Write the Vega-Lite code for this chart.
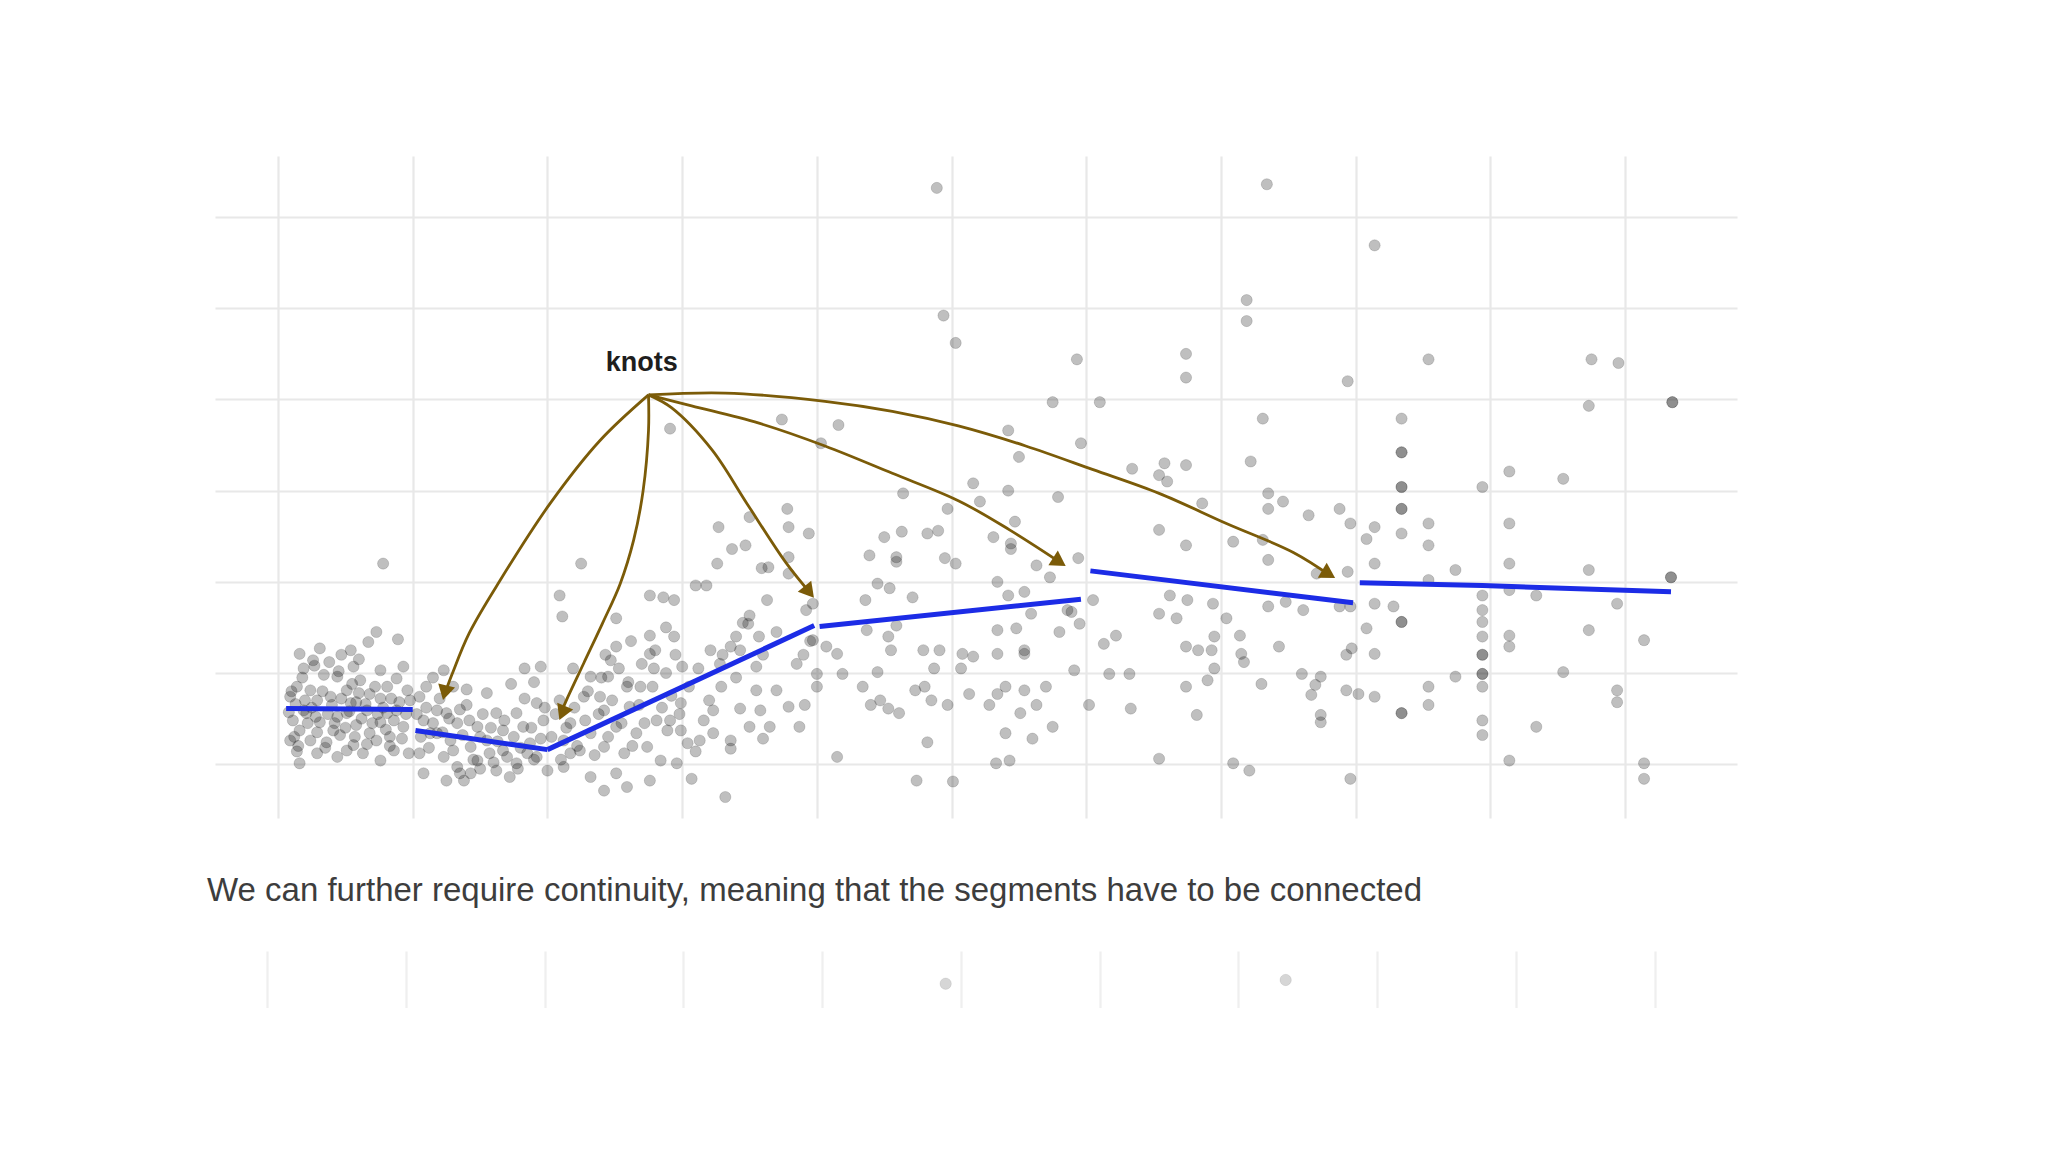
{
  "$schema": "https://vega.github.io/schema/vega-lite/v6.json",
  "background": "white",
  "padding": {"left": 207, "top": 156, "right": 0, "bottom": 0},
  "spacing": 133,
  "bounds": "flush",
  "config": {
    "view": {"stroke": null},
    "axis": {"gridColor": "#e8e8e8", "gridWidth": 2.2}
  },
  "datasets": {
    "pts": [
      {"x":0.78,"y":2.20},{"x":0.73,"y":1.45},{"x":0.89,"y":1.37},{"x":0.67,"y":1.34},{"x":0.31,"y":1.27},{"x":0.54,"y":1.25},{"x":0.16,"y":1.21},{"x":0.47,"y":1.20},{"x":0.26,"y":1.14},{"x":0.56,"y":1.07},{"x":0.19,"y":1.05},{"x":0.76,"y":1.03},{"x":0.93,"y":1.07},{"x":0.34,"y":0.98},{"x":0.44,"y":0.96},{"x":0.61,"y":0.92},{"x":0.88,"y":0.94},{"x":0.14,"y":0.85},{"x":0.24,"y":0.81},{"x":0.51,"y":0.81},{"x":0.68,"y":0.77},{"x":0.81,"y":0.85},{"x":0.96,"y":0.81},{"x":0.09,"y":0.74},{"x":0.29,"y":0.70},{"x":0.39,"y":0.74},{"x":0.58,"y":0.68},{"x":0.76,"y":0.72},{"x":0.19,"y":0.59},{"x":0.51,"y":0.56},{"x":0.66,"y":0.59},{"x":0.88,"y":0.59},{"x":0.11,"y":0.48},{"x":0.31,"y":0.46},{"x":0.44,"y":0.52},{"x":0.58,"y":0.43},{"x":0.76,"y":0.46},{"x":0.93,"y":0.41},{"x":0.16,"y":0.37},{"x":0.29,"y":0.35},{"x":0.46,"y":0.32},{"x":0.68,"y":0.34},{"x":0.83,"y":0.30},{"x":0.24,"y":0.26},{"x":0.36,"y":0.24},{"x":0.56,"y":0.21},{"x":0.73,"y":0.26},{"x":0.14,"y":0.14},{"x":0.29,"y":0.12},{"x":0.51,"y":0.15},{"x":0.63,"y":0.12},{"x":0.86,"y":0.15},{"x":0.16,"y":0.01},{"x":0.44,"y":0.08},{"x":0.76,"y":0.04},{"x":0.97,"y":0.12},{"x":0.09,"y":0.26},{"x":0.21,"y":0.56},{"x":0.41,"y":0.37},{"x":0.81,"y":0.56},{"x":0.54,"y":0.67},
      {"x":0.10,"y":0.80},{"x":0.13,"y":0.66},{"x":0.20,"y":0.70},{"x":0.22,"y":0.45},{"x":0.25,"y":0.62},{"x":0.28,"y":0.52},{"x":0.33,"y":0.80},{"x":0.37,"y":0.55},{"x":0.40,"y":0.65},{"x":0.42,"y":0.45},{"x":0.47,"y":0.72},{"x":0.50,"y":0.40},{"x":0.53,"y":0.58},{"x":0.57,"y":0.30},{"x":0.60,"y":0.78},{"x":0.62,"y":0.50},{"x":0.65,"y":0.66},{"x":0.70,"y":0.45},{"x":0.72,"y":0.85},{"x":0.74,"y":0.55},{"x":0.78,"y":0.62},{"x":0.80,"y":0.38},{"x":0.84,"y":0.72},{"x":0.86,"y":0.48},{"x":0.90,"y":0.68},{"x":0.92,"y":0.28},{"x":0.95,"y":0.55},{"x":0.98,"y":0.70},{"x":0.12,"y":0.30},{"x":0.18,"y":0.95},{"x":0.27,"y":1.08},{"x":0.35,"y":0.18},{"x":0.45,"y":1.02},{"x":0.55,"y":0.88},{"x":0.66,"y":0.22},{"x":0.83,"y":0.20},{"x":0.15,"y":0.20},{"x":0.60,"y":1.15},{"x":0.38,"y":1.12},{"x":0.08,"y":0.57},
      {"x":1.10,"y":0.85},{"x":1.23,"y":1.03},{"x":1.05,"y":0.74},{"x":1.18,"y":0.59},{"x":1.08,"y":0.48},{"x":1.25,"y":0.56},{"x":1.40,"y":0.65},{"x":1.33,"y":0.45},{"x":1.13,"y":0.34},{"x":1.48,"y":0.41},{"x":1.62,"y":0.56},{"x":1.67,"y":0.37},{"x":1.77,"y":0.56},{"x":1.83,"y":1.05},{"x":1.95,"y":1.07},{"x":1.92,"y":0.67},{"x":1.97,"y":0.48},{"x":1.82,"y":0.41},{"x":1.55,"y":0.26},{"x":1.28,"y":0.26},{"x":1.43,"y":0.19},{"x":1.67,"y":0.15},{"x":1.87,"y":0.23},{"x":1.05,"y":0.12},{"x":1.23,"y":0.08},{"x":1.33,"y":-0.03},{"x":1.48,"y":0.04},{"x":1.62,"y":-0.07},{"x":1.77,"y":0.01},{"x":1.92,"y":0.08},{"x":2.00,"y":-0.07},{"x":1.08,"y":-0.10},{"x":1.25,"y":-0.18},{"x":1.43,"y":-0.10},{"x":1.72,"y":-0.14},{"x":1.18,"y":0.34},{"x":1.57,"y":0.12},{"x":1.85,"y":0.12},{"x":1.38,"y":-0.18},
      {"x":1.03,"y":0.55},{"x":1.06,"y":0.30},{"x":1.10,"y":0.62},{"x":1.12,"y":0.18},{"x":1.15,"y":0.45},{"x":1.20,"y":0.72},{"x":1.22,"y":0.35},{"x":1.27,"y":0.50},{"x":1.30,"y":0.15},{"x":1.35,"y":0.60},{"x":1.37,"y":0.32},{"x":1.42,"y":0.48},{"x":1.45,"y":0.05},{"x":1.50,"y":0.30},{"x":1.52,"y":0.55},{"x":1.58,"y":0.40},{"x":1.60,"y":0.02},{"x":1.63,"y":0.25},{"x":1.68,"y":0.48},{"x":1.70,"y":0.08},{"x":1.75,"y":0.30},{"x":1.80,"y":0.18},{"x":1.83,"y":0.72},{"x":1.88,"y":0.40},{"x":1.90,"y":0.05},{"x":1.95,"y":0.28},{"x":1.98,"y":0.62},{"x":1.40,"y":0.82},{"x":1.55,"y":0.78},{"x":1.73,"y":0.88},{"x":1.15,"y":0.95},{"x":1.30,"y":0.85},{"x":1.90,"y":0.90},{"x":1.50,"y":-0.05},{"x":1.35,"y":-0.10},{"x":1.78,"y":-0.05},
      {"x":2.25,"y":2.20},{"x":2.09,"y":1.85},{"x":2.11,"y":1.62},{"x":2.51,"y":1.60},{"x":2.76,"y":1.85},{"x":2.86,"y":1.83},{"x":2.76,"y":1.41},{"x":2.51,"y":1.29},{"x":2.76,"y":1.21},{"x":2.47,"y":1.14},{"x":2.32,"y":0.96},{"x":2.19,"y":1.05},{"x":2.45,"y":0.96},{"x":2.59,"y":0.85},{"x":2.79,"y":1.05},{"x":2.69,"y":0.85},{"x":2.27,"y":0.74},{"x":2.39,"y":0.74},{"x":2.09,"y":0.70},{"x":2.42,"y":0.59},{"x":2.61,"y":0.63},{"x":2.81,"y":0.48},{"x":2.17,"y":0.45},{"x":2.32,"y":0.34},{"x":2.51,"y":0.41},{"x":2.66,"y":0.34},{"x":2.12,"y":0.26},{"x":2.24,"y":0.15},{"x":2.42,"y":0.19},{"x":2.57,"y":0.12},{"x":2.74,"y":0.19},{"x":2.84,"y":0.04},{"x":2.12,"y":-0.03},{"x":2.32,"y":-0.14},{"x":2.51,"y":-0.10},{"x":2.42,"y":-0.29},{"x":2.59,"y":-0.25},{"x":2.76,"y":-0.18},{"x":2.17,"y":0.12},{"x":2.89,"y":0.37},
      {"x":2.03,"y":0.30},{"x":2.06,"y":0.55},{"x":2.10,"y":0.05},{"x":2.14,"y":0.40},{"x":2.20,"y":0.62},{"x":2.22,"y":0.20},{"x":2.28,"y":0.48},{"x":2.30,"y":0.80},{"x":2.35,"y":0.10},{"x":2.38,"y":0.55},{"x":2.40,"y":0.95},{"x":2.45,"y":0.30},{"x":2.48,"y":0.70},{"x":2.53,"y":1.05},{"x":2.55,"y":0.45},{"x":2.60,"y":0.90},{"x":2.63,"y":0.20},{"x":2.68,"y":0.65},{"x":2.70,"y":1.10},{"x":2.72,"y":0.45},{"x":2.78,"y":0.85},{"x":2.80,"y":1.25},{"x":2.85,"y":0.62},{"x":2.88,"y":1.00},{"x":2.92,"y":0.75},{"x":2.95,"y":1.20},{"x":2.98,"y":0.55},{"x":2.62,"y":1.35},{"x":2.43,"y":1.20},{"x":2.88,"y":1.50},
      {"x":4.16,"y":3.72},{"x":4.03,"y":3.52},{"x":3.27,"y":2.60},{"x":3.50,"y":2.71},{"x":3.78,"y":2.80},{"x":3.79,"y":2.60},{"x":3.94,"y":2.53},{"x":3.37,"y":2.36},{"x":3.47,"y":2.40},{"x":3.26,"y":2.20},{"x":3.59,"y":2.15},{"x":3.64,"y":2.16},{"x":3.79,"y":2.09},{"x":3.79,"y":2.27},{"x":3.10,"y":1.96},{"x":3.18,"y":1.96},{"x":2.94,"y":1.80},{"x":3.63,"y":1.80},{"x":3.50,"y":1.63},{"x":3.49,"y":1.54},{"x":3.92,"y":1.69},{"x":3.97,"y":1.76},{"x":2.94,"y":1.40},{"x":3.40,"y":1.40},{"x":3.57,"y":1.40},{"x":3.21,"y":1.25},{"x":3.36,"y":1.29},{"x":3.43,"y":1.25},{"x":3.90,"y":1.20},{"x":3.97,"y":1.36},{"x":4.07,"y":1.29},{"x":4.15,"y":1.21},{"x":3.00,"y":1.07},{"x":3.28,"y":1.10},{"x":3.55,"y":1.07},{"x":4.00,"y":0.99},{"x":4.19,"y":0.99},{"x":3.29,"y":0.85},{"x":3.55,"y":0.81},{"x":3.70,"y":0.81},{"x":4.00,"y":0.85},{"x":4.34,"y":0.85},{"x":2.99,"y":0.67},{"x":3.23,"y":0.59},{"x":3.43,"y":0.61},{"x":3.58,"y":0.59},{"x":3.79,"y":0.63},{"x":3.91,"y":0.65},{"x":2.91,"y":0.48},{"x":3.16,"y":0.48},{"x":3.50,"y":0.41},{"x":3.65,"y":0.41},{"x":3.87,"y":0.41},{"x":2.99,"y":0.37},{"x":3.23,"y":0.34},{"x":3.36,"y":0.26},{"x":3.60,"y":0.28},{"x":3.04,"y":0.23},{"x":3.13,"y":0.26},{"x":3.10,"y":0.14},{"x":3.36,"y":0.17},{"x":2.96,"y":0.01},{"x":3.07,"y":-0.16},{"x":3.32,"y":-0.36},{"x":4.15,"y":0.08},
      {"x":3.05,"y":0.85},{"x":3.12,"y":1.05},{"x":3.20,"y":0.70},{"x":3.30,"y":1.20},{"x":3.40,"y":0.95},{"x":3.45,"y":1.55},{"x":3.60,"y":1.20},{"x":3.70,"y":1.45},{"x":3.85,"y":1.10},{"x":3.95,"y":1.35},
      {"x":4.64,"y":2.97},{"x":4.50,"y":2.49},{"x":4.63,"y":2.55},{"x":4.39,"y":2.29},{"x":4.59,"y":2.22},{"x":4.59,"y":2.27},{"x":4.82,"y":2.53},{"x":4.90,"y":2.56},{"x":4.95,"y":2.26},{"x":4.97,"y":2.80},{"x":4.45,"y":1.98},{"x":4.54,"y":1.93},{"x":4.36,"y":1.80},{"x":4.71,"y":1.83},{"x":4.37,"y":1.47},{"x":4.59,"y":1.52},{"x":4.53,"y":1.40},{"x":4.55,"y":1.25},{"x":4.79,"y":1.25},{"x":4.91,"y":1.25},{"x":4.45,"y":1.01},{"x":4.87,"y":1.05},{"x":4.80,"y":0.85},{"x":4.73,"y":0.81},{"x":4.40,"y":0.65},{"x":4.47,"y":0.70},{"x":4.53,"y":0.61},{"x":4.61,"y":0.56},{"x":4.85,"y":0.70},{"x":4.97,"y":0.65},{"x":4.82,"y":0.24},{"x":4.74,"y":-0.18},{"x":5.01,"y":-0.19},
      {"x":5.42,"y":3.66},{"x":5.50,"y":3.37},{"x":5.16,"y":3.08},{"x":5.42,"y":3.00},{"x":5.79,"y":2.93},{"x":5.21,"y":2.88},{"x":5.47,"y":2.66},{"x":5.31,"y":2.49},{"x":5.44,"y":2.42},{"x":5.44,"y":2.36},{"x":5.03,"y":2.20},{"x":5.63,"y":2.18},{"x":5.73,"y":2.05},{"x":5.34,"y":2.00},{"x":5.54,"y":1.89},{"x":5.42,"y":1.85},{"x":5.59,"y":1.65},{"x":5.34,"y":1.47},{"x":5.48,"y":1.49},{"x":5.80,"y":1.45},{"x":5.86,"y":1.69},{"x":5.08,"y":1.21},{"x":5.16,"y":1.18},{"x":5.34,"y":1.21},{"x":5.54,"y":1.25},{"x":5.54,"y":1.21},{"x":5.07,"y":1.05},{"x":5.40,"y":0.85},{"x":5.54,"y":0.81},{"x":5.70,"y":0.85},{"x":5.13,"y":0.77},{"x":5.34,"y":0.77},{"x":5.28,"y":0.65},{"x":5.51,"y":0.56},{"x":5.63,"y":0.65},{"x":5.40,"y":0.34},{"x":5.75,"y":0.41},{"x":5.60,"y":0.28},{"x":5.33,"y":0.01},{"x":5.43,"y":0.04},
      {"x":5.96,"y":3.52},{"x":6.34,"y":3.24},{"x":6.58,"y":3.30},{"x":6.74,"y":3.28},{"x":6.54,"y":3.17},{"x":6.60,"y":3.10},{"x":7.22,"y":3.32},{"x":7.35,"y":2.97},{"x":7.46,"y":2.88},{"x":7.35,"y":2.80},{"x":7.65,"y":2.73},{"x":7.88,"y":2.80},{"x":7.96,"y":2.64},{"x":6.86,"y":2.86},{"x":6.54,"y":2.57},{"x":6.74,"y":2.40},{"x":7.09,"y":2.44},{"x":7.31,"y":2.46},{"x":7.35,"y":2.24},{"x":5.94,"y":2.26},{"x":7.94,"y":2.11},{"x":7.71,"y":2.09},{"x":6.05,"y":1.80},{"x":6.62,"y":1.85},{"x":6.75,"y":1.80},{"x":6.94,"y":1.76},{"x":7.04,"y":1.60},{"x":6.54,"y":1.65},{"x":6.67,"y":1.60},{"x":5.89,"y":1.67},{"x":5.95,"y":1.54},{"x":7.35,"y":1.73},{"x":7.48,"y":1.78},{"x":7.61,"y":1.69},{"x":7.88,"y":1.73},{"x":7.96,"y":1.73},{"x":6.22,"y":1.41},{"x":6.13,"y":1.32},{"x":6.95,"y":1.40},{"x":7.14,"y":1.41},{"x":6.74,"y":1.29},{"x":6.83,"y":1.25},{"x":6.93,"y":1.25},{"x":7.15,"y":1.21},{"x":7.17,"y":1.12},{"x":7.43,"y":1.29},{"x":7.97,"y":1.27},{"x":7.93,"y":1.20},{"x":5.91,"y":1.03},{"x":6.17,"y":0.99},{"x":6.32,"y":0.99},{"x":6.95,"y":1.05},{"x":6.90,"y":0.92},{"x":6.74,"y":0.85},{"x":7.30,"y":0.88},{"x":7.60,"y":0.99},{"x":7.74,"y":0.96},{"x":7.70,"y":0.87},{"x":7.67,"y":0.76},{"x":7.93,"y":0.81},{"x":6.02,"y":0.65},{"x":6.33,"y":0.61},{"x":6.82,"y":0.54},{"x":7.74,"y":0.54},{"x":7.74,"y":0.46},{"x":6.54,"y":0.06},{"x":7.09,"y":0.01},{"x":7.21,"y":-0.07},{"x":7.96,"y":-0.16},
      {"x":8.34,"y":3.42},{"x":8.34,"y":3.42},{"x":8.34,"y":3.04},{"x":8.34,"y":3.04},{"x":8.34,"y":2.80},{"x":8.34,"y":2.80},{"x":8.34,"y":2.53},{"x":8.54,"y":2.64},{"x":8.54,"y":2.40},{"x":8.14,"y":2.60},{"x":8.08,"y":2.47},{"x":8.14,"y":2.20},{"x":8.74,"y":2.13},{"x":8.54,"y":2.02},{"x":8.14,"y":1.76},{"x":8.28,"y":1.73},{"x":8.34,"y":1.56},{"x":8.34,"y":1.56},{"x":8.08,"y":1.49},{"x":8.14,"y":1.21},{"x":8.74,"y":0.96},{"x":8.54,"y":0.85},{"x":8.54,"y":0.65},{"x":8.14,"y":0.74},{"x":8.34,"y":0.56},{"x":8.34,"y":0.56},{"x":8.02,"y":0.77},
      {"x":8.94,"y":3.04},{"x":9.14,"y":3.21},{"x":9.54,"y":3.13},{"x":9.14,"y":2.64},{"x":9.14,"y":2.20},{"x":9.73,"y":2.13},{"x":10.34,"y":2.05},{"x":10.34,"y":2.05},{"x":9.14,"y":1.91},{"x":8.94,"y":1.85},{"x":9.34,"y":1.85},{"x":8.94,"y":1.69},{"x":8.94,"y":1.56},{"x":8.94,"y":1.40},{"x":8.94,"y":1.20},{"x":8.94,"y":1.20},{"x":8.94,"y":0.99},{"x":8.94,"y":0.99},{"x":8.94,"y":0.85},{"x":8.94,"y":0.48},{"x":8.94,"y":0.32},{"x":9.14,"y":1.41},{"x":9.14,"y":1.29},{"x":9.73,"y":1.47},{"x":9.94,"y":1.76},{"x":10.14,"y":1.36},{"x":9.54,"y":1.01},{"x":9.94,"y":0.81},{"x":9.94,"y":0.68},{"x":9.34,"y":0.41},{"x":9.14,"y":0.04},{"x":10.14,"y":0.01},{"x":10.14,"y":-0.16},
      {"x":4.89,"y":6.32},{"x":7.34,"y":6.36},{"x":8.14,"y":5.69},{"x":4.94,"y":4.92},{"x":5.03,"y":4.62},{"x":7.19,"y":5.09},{"x":7.19,"y":4.86},{"x":5.93,"y":4.44},{"x":6.74,"y":4.50},{"x":6.74,"y":4.24},{"x":7.94,"y":4.20},{"x":8.54,"y":4.44},{"x":9.75,"y":4.44},{"x":9.95,"y":4.40},{"x":9.73,"y":3.93},{"x":10.35,"y":3.97},{"x":10.35,"y":3.97},{"x":5.75,"y":3.97},{"x":6.10,"y":3.97},{"x":7.31,"y":3.79},{"x":8.34,"y":3.79},{"x":2.91,"y":3.68},{"x":3.74,"y":3.78}
    ],
    "fit": [
      {"seg":1,"x":0.06,"y":0.61},{"seg":1,"x":1.0,"y":0.60},
      {"seg":2,"x":1.02,"y":0.37},{"seg":2,"x":2.0,"y":0.16},
      {"seg":3,"x":2.0,"y":0.16},{"seg":3,"x":3.98,"y":1.52},
      {"seg":4,"x":4.02,"y":1.51},{"seg":4,"x":5.96,"y":1.81},
      {"seg":5,"x":6.03,"y":2.12},{"seg":5,"x":7.98,"y":1.77},
      {"seg":6,"x":8.03,"y":1.99},{"seg":6,"x":8.94,"y":1.96},{"seg":6,"x":10.34,"y":1.89}
    ],
    "arr": [
      {"id":1,"ord":0,"x":2.75,"y":4.05},{"id":1,"ord":1,"x":2.39,"y":3.55},{"id":1,"ord":2,"x":2.02,"y":2.86},{"id":1,"ord":3,"x":1.65,"y":2.02},{"id":1,"ord":4,"x":1.42,"y":1.44},{"id":1,"ord":5,"x":1.29,"y":0.98},{"id":1,"ord":6,"x":1.23,"y":0.74},
      {"id":2,"ord":0,"x":2.75,"y":4.05},{"id":2,"ord":1,"x":2.75,"y":3.66},{"id":2,"ord":2,"x":2.71,"y":3.00},{"id":2,"ord":3,"x":2.64,"y":2.46},{"id":2,"ord":4,"x":2.54,"y":1.98},{"id":2,"ord":5,"x":2.41,"y":1.55},{"id":2,"ord":6,"x":2.27,"y":1.11},{"id":2,"ord":7,"x":2.14,"y":0.70},{"id":2,"ord":8,"x":2.10,"y":0.56},
      {"id":3,"ord":0,"x":2.75,"y":4.05},{"id":3,"ord":1,"x":2.92,"y":3.91},{"id":3,"ord":2,"x":3.22,"y":3.45},{"id":3,"ord":3,"x":3.48,"y":2.86},{"id":3,"ord":4,"x":3.77,"y":2.21},{"id":3,"ord":5,"x":3.96,"y":1.86},
      {"id":4,"ord":0,"x":2.75,"y":4.05},{"id":4,"ord":1,"x":3.07,"y":3.93},{"id":4,"ord":2,"x":3.57,"y":3.74},{"id":4,"ord":3,"x":4.06,"y":3.49},{"id":4,"ord":4,"x":4.56,"y":3.19},{"id":4,"ord":5,"x":5.05,"y":2.89},{"id":4,"ord":6,"x":5.43,"y":2.57},{"id":4,"ord":7,"x":5.82,"y":2.20},
      {"id":5,"ord":0,"x":2.75,"y":4.05},{"id":5,"ord":1,"x":3.32,"y":4.07},{"id":5,"ord":2,"x":4.06,"y":3.98},{"id":5,"ord":3,"x":4.56,"y":3.87},{"id":5,"ord":4,"x":5.05,"y":3.71},{"id":5,"ord":5,"x":5.55,"y":3.49},{"id":5,"ord":6,"x":6.05,"y":3.23},{"id":5,"ord":7,"x":6.54,"y":2.97},{"id":5,"ord":8,"x":7.04,"y":2.64},{"id":5,"ord":9,"x":7.54,"y":2.32},{"id":5,"ord":10,"x":7.82,"y":2.06}
    ],
    "heads": [
      {"x":1.238,"y":0.783,"angle":194},
      {"x":2.11,"y":0.56,"angle":203},
      {"x":3.943,"y":1.888,"angle":141},
      {"x":5.80,"y":2.218,"angle":123},
      {"x":7.799,"y":2.085,"angle":121}
    ],
    "lab": [
      {"x":2.70,"y":4.40,"t":"knots"}
    ]
  },
  "vconcat": [
    {
      "width": 1522,
      "height": 662,
      "encoding": {
        "x": {"field": "x", "type": "quantitative",
              "scale": {"domain": [-0.468, 10.83], "nice": false, "zero": false},
              "axis": {"values": [0,1,2,3,4,5,6,7,8,9,10], "labels": false, "ticks": false, "domain": false, "title": null, "grid": true}},
        "y": {"field": "y", "type": "quantitative",
              "scale": {"domain": [-0.59, 6.67], "nice": false, "zero": false},
              "axis": {"values": [0,1,2,3,4,5,6], "labels": false, "ticks": false, "domain": false, "title": null, "grid": true}}
      },
      "layer": [
        {
          "data": {"name": "pts"},
          "mark": {"type": "circle", "size": 125, "fill": "black", "fillOpacity": 0.25, "stroke": "black", "strokeOpacity": 0.14, "strokeWidth": 1, "opacity": 1}
        },
        {
          "data": {"name": "fit"},
          "mark": {"type": "line", "color": "#1c2ce6", "strokeWidth": 5, "strokeCap": "butt"},
          "encoding": {"detail": {"field": "seg", "type": "nominal"}, "order": {"field": "x", "type": "quantitative"}}
        },
        {
          "data": {"name": "arr"},
          "mark": {"type": "line", "color": "#7b5b08", "strokeWidth": 2.8, "interpolate": "catmull-rom"},
          "encoding": {"detail": {"field": "id", "type": "nominal"}, "order": {"field": "ord", "type": "quantitative"}}
        },
        {
          "data": {"name": "heads"},
          "mark": {"type": "point", "shape": "triangle-up", "filled": true, "size": 300, "color": "#7b5b08", "opacity": 1},
          "encoding": {"angle": {"field": "angle", "type": "quantitative", "scale": null}}
        },
        {
          "data": {"name": "lab"},
          "mark": {"type": "text", "font": "Liberation Sans", "fontWeight": "bold", "fontSize": 27, "color": "#1e1e1e", "align": "center", "baseline": "middle"},
          "encoding": {"text": {"field": "t", "type": "nominal"}}
        }
      ]
    },
    {
      "width": 1555,
      "height": 57,
      "title": {
        "text": "We can further require continuity, meaning that the segments have to be connected",
        "orient": "top",
        "anchor": "start",
        "baseline": "alphabetic",
        "offset": 17,
        "dx": -8,
        "font": "Liberation Sans",
        "fontSize": 33,
        "fontWeight": "normal",
        "color": "#3d3d3d"
      },
      "data": {"name": "pts"},
      "mark": {"type": "circle", "size": 130, "fill": "black", "fillOpacity": 0.16, "stroke": "black", "strokeOpacity": 0.08, "strokeWidth": 1, "opacity": 1, "clip": true},
      "encoding": {
        "x": {"field": "x", "type": "quantitative",
              "scale": {"domain": [-0.375, 10.83], "nice": false, "zero": false},
              "axis": {"values": [0,1,2,3,4,5,6,7,8,9,10], "labels": false, "ticks": false, "domain": false, "title": null, "grid": true, "gridColor": "#efefef"}},
        "y": {"field": "y", "type": "quantitative",
              "scale": {"domain": [6.06, 6.67], "nice": false, "zero": false},
              "axis": null}
      }
    }
  ]
}
